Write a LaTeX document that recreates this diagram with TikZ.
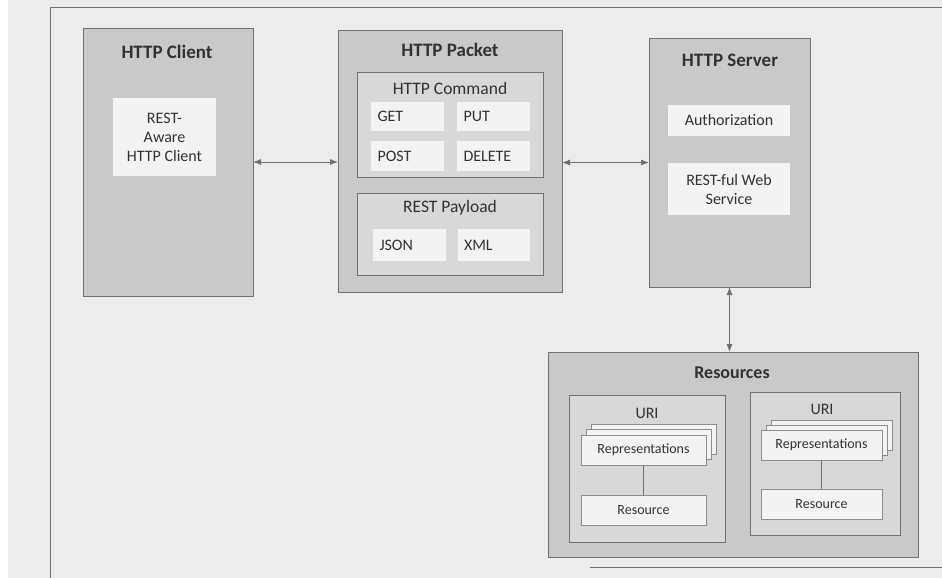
\documentclass[tikz,border=0pt]{standalone}
\usepackage{fontspec}
\setmainfont{Carlito}
\usetikzlibrary{arrows.meta}

\definecolor{paper}{RGB}{236,236,236}
\definecolor{outer}{RGB}{201,201,201}
\definecolor{inner}{RGB}{216,216,216}
\definecolor{card}{RGB}{243,243,243}
\definecolor{edge}{RGB}{112,112,112}
\definecolor{ink}{RGB}{50,50,50}

\begin{document}
\begin{tikzpicture}[x=1pt,y=-1pt,font=\fontsize{16}{19}\selectfont,text=ink,
  outerbox/.style={draw=edge,fill=outer,anchor=north west,inner sep=0pt,outer sep=0pt},
  innerbox/.style={draw=edge,fill=inner,anchor=north west,inner sep=0pt,outer sep=0pt},
  cardbox/.style={fill=card,anchor=north west,inner sep=0pt,outer sep=0pt,align=center},
  stackcard/.style={draw=edge!80,fill=card,anchor=north west,inner sep=0pt,outer sep=0pt,
    minimum width=125,minimum height=30,font=\fontsize{14}{17}\selectfont},
  heading/.style={font=\bfseries\fontsize{19}{22}\selectfont},
  subhead/.style={font=\fontsize{17.5}{21}\selectfont},
  link/.style={draw=edge,thick,{Latex[length=8pt,width=6pt]}-{Latex[length=8pt,width=6pt]}}]

\useasboundingbox (0,0) rectangle (942,578);
\fill[paper] (0,0) rectangle (942,578);
\fill[white] (0,0) rectangle (8,578);

% page frame
\draw[edge,thick] (50,578) -- (50,7) -- (942,7);
\draw[edge,thick] (590,567) -- (942,567);

% client
\node[outerbox,minimum width=170,minimum height=268] (client) at (83,28) {};
\node[heading] (clienttitle) at (167,52) {HTTP Client};
\node[cardbox,minimum width=103,minimum height=78] (awareclient) at (113,98) {REST-\\Aware\\HTTP Client};

% packet
\node[outerbox,minimum width=224,minimum height=262] (packet) at (338,30) {};
\node[heading] (packettitle) at (450,50) {HTTP Packet};
\node[innerbox,minimum width=186,minimum height=105] (command) at (357,72) {};
\node[subhead] (commandtitle) at (450,88) {HTTP Command};
\node[cardbox,minimum width=73,minimum height=29,text width=60,align=left] (get) at (371,102) {GET};
\node[cardbox,minimum width=73,minimum height=29,text width=60,align=left] (put) at (457,102) {PUT};
\node[cardbox,minimum width=73,minimum height=30,text width=60,align=left] (post) at (371,141) {POST};
\node[cardbox,minimum width=73,minimum height=30,text width=60,align=left] (delete) at (457,141) {DELETE};
\node[innerbox,minimum width=186,minimum height=82] (payload) at (357,193) {};
\node[subhead] (payloadtitle) at (450,208) {REST Payload};
\node[cardbox,minimum width=73,minimum height=32,text width=60,align=left] (json) at (373,229) {JSON};
\node[cardbox,minimum width=72,minimum height=32,text width=60,align=left] (xml) at (458,229) {XML};

% server
\node[outerbox,minimum width=161,minimum height=249] (server) at (649,38) {};
\node[heading] (servertitle) at (730,60) {HTTP Server};
\node[cardbox,minimum width=122,minimum height=31] (auth) at (668,105) {Authorization};
\node[cardbox,minimum width=122,minimum height=52] (restful) at (668,163) {REST-ful Web\\Service};

% resources
\node[outerbox,minimum width=370,minimum height=205] (res) at (548,352) {};
\node[heading,font=\bfseries\fontsize{18}{21}\selectfont] (restitle) at (732,373) {Resources};

\node[innerbox,minimum width=156,minimum height=147] (urione) at (569,395) {};
\node (urionetitle) at (647,413) {URI};
\node[stackcard] at (591,424) {};
\node[stackcard] at (586,429) {};
\node[stackcard] (repone) at (581,435) {Representations};
\node[stackcard] (rscone) at (581,495) {Resource};

\node[innerbox,minimum width=150,minimum height=143] (uritwo) at (750,392) {};
\node (uritwotitle) at (822,409) {URI};
\node[stackcard,minimum width=121] at (771,420) {};
\node[stackcard,minimum width=121] at (766,425) {};
\node[stackcard,minimum width=121] (reptwo) at (761,430) {Representations};
\node[stackcard,minimum width=121] (rsctwo) at (761,489) {Resource};

% connectors
\draw[link] (client.east) -- (client.east -| packet.west);
\draw[link] (packet.east |- server.west) -- (server.west);
\draw[link] (server.south) -- (server.south |- res.north);
\draw[edge] (repone.south) -- (rscone.north);
\draw[edge] (reptwo.south) -- (rsctwo.north);

\end{tikzpicture}
\end{document}
